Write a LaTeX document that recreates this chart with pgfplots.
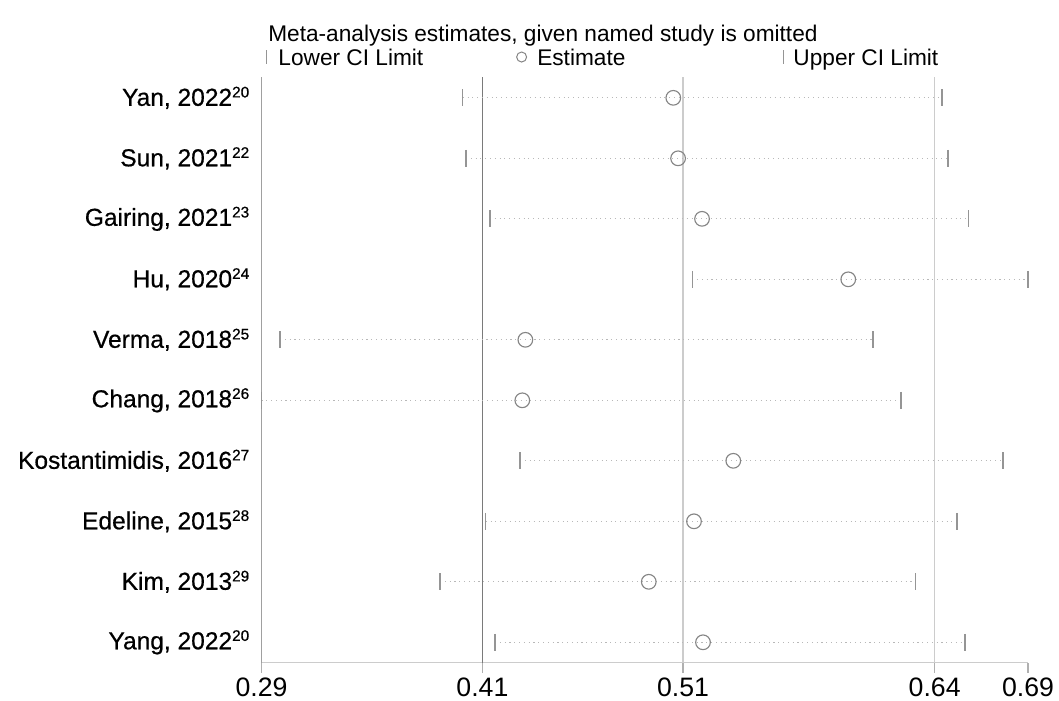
\documentclass[border=0pt]{standalone}
\usepackage{fontspec}
\setmainfont{Liberation Sans}
\newfontfamily\ylabfont{Liberation Sans}[FakeBold=0.6]
\usepackage{pgfplots}
\usepackage{pgfplotstable}
\pgfplotsset{compat=1.18}
\definecolor{capgray}{HTML}{959595}
\definecolor{circgray}{HTML}{858585}
\definecolor{dotgray}{HTML}{B8B8B8}
\definecolor{lightline}{HTML}{CCCCCC}
\definecolor{darkline}{HTML}{7A7A7A}
\definecolor{yaxisgray}{HTML}{A0A0A0}
\definecolor{tickgray}{HTML}{B0B0B0}
\newcommand\sups[1]{\textsuperscript{\fontsize{11.5pt}{12pt}\selectfont #1}}

\pgfplotstableread{
y L E U
10 0.3950 0.5049 0.6450
9 0.3967 0.5074 0.6483
8 0.4092 0.5199 0.6590
7 0.5148 0.5962 0.6900
6 0.2997 0.4277 0.6091
5 0.2900 0.4261 0.6237
4 0.4249 0.5362 0.6770
3 0.4070 0.5157 0.6530
2 0.3832 0.4921 0.6314
1 0.4119 0.5204 0.6571
}\data

\begin{document}
\begin{tikzpicture}
\useasboundingbox (-196.125pt,-28.125pt) rectangle (598.125pt,496.875pt);
\begin{axis}[
  scale only axis, width=574.875pt, height=438.75pt,
  xmin=0.29, xmax=0.69, ymin=0.666, ymax=10.336,
  clip=false,
  axis x line*=bottom, axis y line*=left,
  x axis line style={-, draw=lightline, line width=1pt},
  y axis line style={-, draw=yaxisgray, line width=1pt},
  xtick={0.29,0.4053,0.51,0.6413,0.69},
  xticklabels={0.29,0.41,0.51,0.64,0.69},
  ytick={1,2,3,4,5,6,7,8,9,10},
  yticklabels={{Yang, 2022\sups{20}},{Kim, 2013\sups{29}},{Edeline, 2015\sups{28}},{Kostantimidis, 2016\sups{27}},{Chang, 2018\sups{26}},{Verma, 2018\sups{25}},{Hu, 2020\sups{24}},{Gairing, 2021\sups{23}},{Sun, 2021\sups{22}},{Yan, 2022\sups{20}}},
  tick align=outside,
  major tick length=7.5pt,
  x tick style={draw=tickgray, line width=0.9pt},
  y tick style={draw=none},
  x tick label style={font=\fontsize{20pt}{24pt}\selectfont, inner sep=0pt, yshift=-3.5pt},
  y tick label style={font=\ylabfont\fontsize{18.4pt}{22pt}\selectfont, inner sep=0pt, anchor=east, xshift=-1pt},
  /pgf/number format/assume math mode=true,
  legend columns=3,
  legend cell align=left,
  legend image code/.code={\draw[#1] plot coordinates {(0pt,0.4pt)};},
  legend style={at={(rel axis cs:0,1)}, anchor=south west, xshift=3.5pt, yshift=8.6pt,
    draw=none, fill=none, inner sep=0pt,
    font=\fontsize{17pt}{20pt}\selectfont,
    nodes={inner sep=0pt, text depth=0pt},
    /tikz/column 1/.style={column sep=9pt},
    /tikz/column 2/.style={column sep=70pt},
    /tikz/column 3/.style={column sep=8pt},
    /tikz/column 4/.style={column sep=118.5pt},
    /tikz/column 5/.style={column sep=7.5pt}},
]
% reference lines
\addplot[forget plot, draw=darkline, line width=1.1pt] coordinates {(0.4053,0.666) (0.4053,10.336)};
\addplot[forget plot, draw=lightline, line width=1.2pt] coordinates {(0.51,0.666) (0.51,10.336)};
\addplot[forget plot, draw=lightline, line width=1.2pt] coordinates {(0.6413,0.666) (0.6413,10.336)};
% dotted CI spans
\addplot[forget plot, draw=dotgray, line width=0.9pt, dash pattern=on 0.8pt off 2.8pt, unbounded coords=jump] coordinates {
(0.3950,10) (0.6450,10) (0.5,nan)
(0.3967,9) (0.6483,9) (0.5,nan)
(0.4092,8) (0.6590,8) (0.5,nan)
(0.5148,7) (0.6900,7) (0.5,nan)
(0.2997,6) (0.6091,6) (0.5,nan)
(0.2900,5) (0.6237,5) (0.5,nan)
(0.4249,4) (0.6770,4) (0.5,nan)
(0.4070,3) (0.6530,3) (0.5,nan)
(0.3832,2) (0.6314,2) (0.5,nan)
(0.4119,1) (0.6571,1)
};
% caps and estimates
\addplot[forget plot, only marks, mark=|, mark size=6.25pt, draw=capgray, line width=1.1pt] table[x=L, y=y] {\data};
\addplot[forget plot, only marks, mark=|, mark size=6.25pt, draw=capgray, line width=1.1pt] table[x=U, y=y] {\data};
\addplot[forget plot, only marks, mark=o, mark size=5.5pt, draw=circgray, line width=0.85pt] table[x=E, y=y] {\data};
% legend
\addlegendimage{only marks, mark=|, mark size=5.25pt, draw=capgray, line width=1pt}
\addlegendentry{Lower CI Limit}
\addlegendimage{only marks, mark=o, mark size=3.75pt, draw=circgray, line width=0.75pt}
\addlegendentry{Estimate}
\addlegendimage{only marks, mark=|, mark size=5.25pt, draw=capgray, line width=1pt}
\addlegendentry{Upper CI Limit}
\node[anchor=base west, inner sep=0pt, font=\fontsize{17pt}{20pt}\selectfont, xshift=4.9pt, yshift=27.3pt] at (rel axis cs:0,1) {Meta-analysis estimates, given named study is omitted};
\end{axis}
\end{tikzpicture}
\end{document}
